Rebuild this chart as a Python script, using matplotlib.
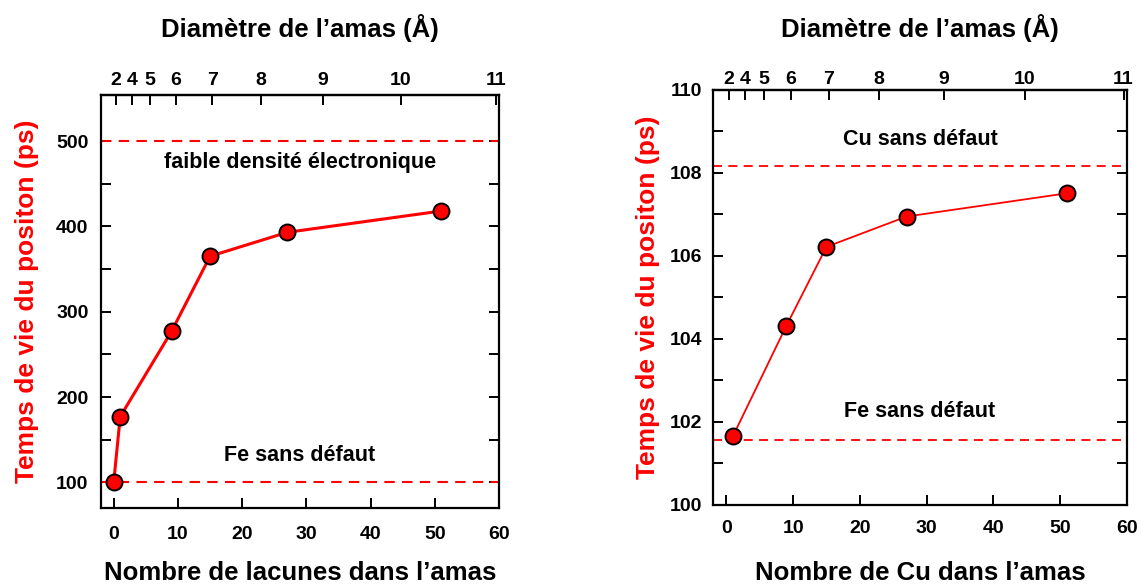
import numpy as np
import matplotlib
matplotlib.use("Agg")
import matplotlib.pyplot as plt
from matplotlib.ticker import MultipleLocator, FixedLocator

plt.rcParams['font.family'] = ['Liberation Sans', 'DejaVu Sans']
plt.rcParams['font.weight'] = 'bold'

# Vacancy clusters in Fe
n_vac = [0, 1, 9, 15, 27, 51]
tau_vac = [101, 177, 277, 365, 393, 418]
tau_fe_left = 101
tau_low_density = 500

# Cu clusters in Fe
n_cu = [1, 9, 15, 27, 51]
tau_cu = [101.66, 104.32, 106.22, 106.95, 107.51]
tau_cu_bulk = 108.16
tau_fe_right = 101.56

diam_ticks = [2, 4, 5, 6, 7, 8, 9, 10, 11]
K_DIAM = 0.0447  # cluster size n = K * d^3


def n_to_d(n):
    return np.cbrt(np.asarray(n, dtype=float) / K_DIAM)


def d_to_n(d):
    return K_DIAM * np.asarray(d, dtype=float) ** 3


RED = '#ff0000'
TICK_FS = 14
LABEL_FS = 18.5
NOTE_FS = 15.5

fig = plt.figure(figsize=(11.42, 5.88), dpi=100)
ax1 = fig.add_axes([0.0884, 0.1361, 0.3485, 0.7024])
ax2 = fig.add_axes([0.6243, 0.1412, 0.3625, 0.7058])


def style(ax, xpad, ypad, toppad, xlab_y, toplab_y, ylab_x, xlabel, ylabel):
    for s in ax.spines.values():
        s.set_linewidth(1.6)
    ax.tick_params(which='both', direction='in', width=1.4,
                   labelsize=TICK_FS, top=False, right=True, length=7)
    ax.tick_params(axis='x', pad=xpad)
    ax.tick_params(axis='y', pad=ypad)
    for lab in ax.get_xticklabels() + ax.get_yticklabels():
        lab.set_fontweight('bold')
    ax.set_xlim(-2, 60)
    ax.xaxis.set_major_locator(MultipleLocator(10))

    sec = ax.secondary_xaxis('top', functions=(n_to_d, d_to_n))
    sec.set_xticks(diam_ticks)
    sec.tick_params(direction='in', length=7, width=1.4,
                    labelsize=TICK_FS, pad=toppad)
    for lab in sec.get_xticklabels():
        lab.set_fontweight('bold')
    sec.spines['top'].set_linewidth(1.6)
    sec.set_xlabel("Diamètre de l’amas (Å)", fontsize=LABEL_FS,
                   fontweight='bold')
    sec.xaxis.set_label_coords(0.5, toplab_y, transform=ax.transAxes)
    sec.xaxis.label.set_va('center')

    ax.set_xlabel(xlabel, fontsize=LABEL_FS, fontweight='bold')
    ax.xaxis.set_label_coords(0.5, xlab_y)
    ax.xaxis.label.set_va('center')
    ax.set_ylabel(ylabel, fontsize=LABEL_FS + 0.5, fontweight='bold',
                  color=RED)
    ax.yaxis.set_label_coords(ylab_x, 0.5)
    ax.yaxis.label.set_va('center')


DASH = (0, (5, 3.5))

# Left panel: vacancy clusters
ax1.axhline(tau_low_density, color=RED, ls=DASH, lw=1.5)
ax1.axhline(tau_fe_left, color=RED, ls=DASH, lw=1.5)
ax1.plot(n_vac, tau_vac, color=RED, lw=2.2, marker='o', ms=11.5,
         mfc=RED, mec='black', mew=1.4, zorder=3)
ax1.set_ylim(70, 554)
ax1.yaxis.set_major_locator(FixedLocator([100, 200, 300, 400, 500]))
ax1.yaxis.set_minor_locator(FixedLocator([150, 250, 350, 450]))
style(ax1, xpad=13, ypad=9, toppad=4.5, xlab_y=-0.157, toplab_y=1.162,
      ylab_x=-0.186, xlabel="Nombre de lacunes dans l’amas",
      ylabel="Temps de vie du positon (ps)")
ax1.text(29, 475, "faible densité électronique", ha='center', va='center',
         fontsize=NOTE_FS, fontweight='bold')
ax1.text(29, 132, "Fe sans défaut", ha='center', va='center',
         fontsize=NOTE_FS, fontweight='bold')

# Right panel: Cu clusters
ax2.axhline(tau_cu_bulk, color=RED, ls=DASH, lw=1.3)
ax2.axhline(tau_fe_right, color=RED, ls=DASH, lw=1.3)
ax2.plot(n_cu, tau_cu, color=RED, lw=1.3, marker='o', ms=11.5,
         mfc=RED, mec='black', mew=1.4, zorder=3)
ax2.set_ylim(100, 110)
ax2.yaxis.set_major_locator(MultipleLocator(2))
ax2.yaxis.set_minor_locator(MultipleLocator(1))
style(ax2, xpad=10.5, ypad=8, toppad=1.5, xlab_y=-0.164, toplab_y=1.149,
      ylab_x=-0.157, xlabel="Nombre de Cu dans l’amas",
      ylabel="Temps de vie du positon (ps)")
ax2.text(29, 108.8, "Cu sans défaut", ha='center', va='center',
         fontsize=NOTE_FS, fontweight='bold')
ax2.text(29, 102.25, "Fe sans défaut", ha='center', va='center',
         fontsize=NOTE_FS, fontweight='bold')

fig.savefig("out.png", dpi=100)
